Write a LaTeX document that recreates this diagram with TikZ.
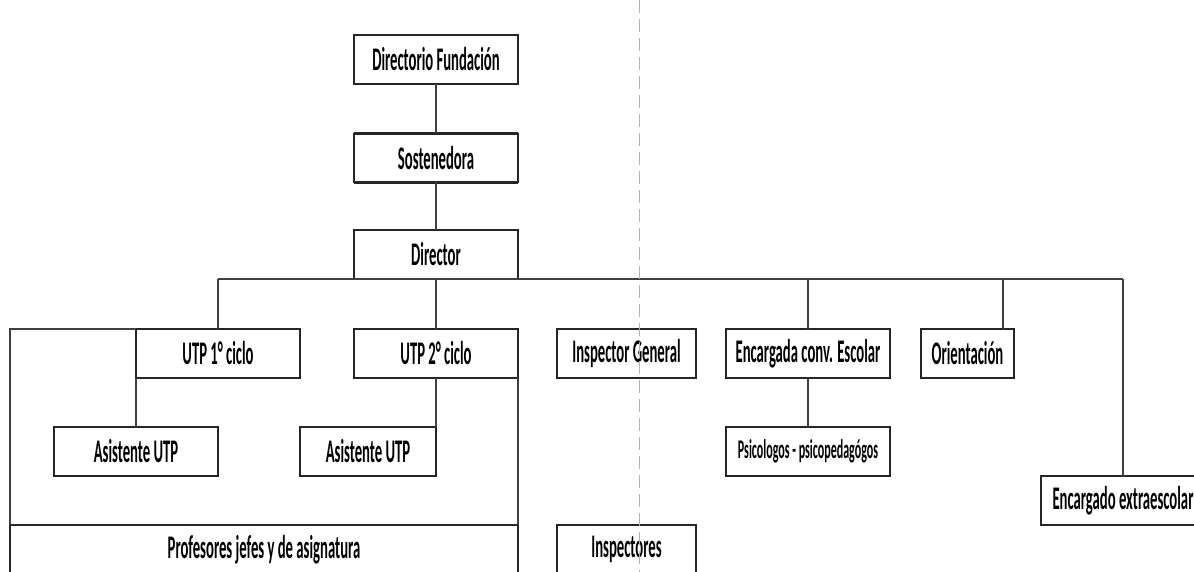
\documentclass[tikz,border=0pt]{standalone}
\usepackage{fontspec}
\setmainfont{Carlito}
\newcommand{\lbl}[1]{\scalebox{0.445}[1]{\bfseries #1}}
\tikzset{box/.style={draw=black!85,line width=1.4pt,fill=white,minimum height=49pt,inner sep=0pt,outer sep=0pt,font=\fontsize{33}{36}\selectfont,
 append after command={(\tikzlastnode.north west) edge[hedge] (\tikzlastnode.north east) (\tikzlastnode.south west) edge[hedge] (\tikzlastnode.south east)}},
hedge/.style={draw=black!85,line width=2.6pt},
conn/.style={draw=black!75,line width=1.3pt}}

\begin{document}
\begin{tikzpicture}[x=1pt,y=-1pt]
\useasboundingbox (0,0) rectangle (1194,572);
\clip (0,0) rectangle (1194,572);
\node[box,minimum width=164pt] (dirf) at (436,59.5) {\lbl{Directorio Fundación}};
\node[box,minimum width=164pt] (sost) at (436,158) {\lbl{Sostenedora}};
\node[box,minimum width=164pt] (dir) at (436,254.5) {\lbl{Director}};
\node[box,minimum width=164pt] (utpa) at (218,353.5) {\lbl{UTP 1° ciclo}};
\node[box,minimum width=164pt] (utpb) at (436,353.5) {\lbl{UTP 2° ciclo}};
\node[box,minimum width=164pt] (asia) at (136,451.5) {\lbl{Asistente UTP}};
\node[box,minimum width=136pt] (asib) at (368,451.5) {\lbl{Asistente UTP}};
\node[box,minimum width=139pt] (insg) at (626.5,353.5) {\lbl{Inspector General}};
\node[box,minimum width=164pt] (encc) at (808,353.5) {\lbl{Encargada conv. Escolar}};
\node[box,minimum width=164pt,font=\fontsize{27}{30}\selectfont] (psic) at (808,451.5) {\lbl{Psicologos - psicopedagógos}};
\node[box,minimum width=93pt] (orie) at (967.5,353.5) {\lbl{Orientación}};
\node[box,minimum width=164pt] (extr) at (1123,500.5) {\lbl{Encargado extraescolar}};
\node[box,minimum width=508pt] (prof) at (264,549.5) {\lbl{Profesores jefes y de asignatura}};
\node[box,minimum width=139pt] (insp) at (626.5,549.5) {\lbl{Inspectores}};
\coordinate (oc) at ([xshift=-11pt]orie.north east);
\draw[conn] (dirf)--(sost) (sost)--(dir);
\draw[conn,line width=2.2pt] (utpa.north|-dir.south)--(extr.north|-dir.south);
\draw[conn] (utpa.north)--(utpa.north|-dir.south);
\draw[conn] (dir.south)--(utpb.north);
\draw[conn] (encc.north)--(encc.north|-dir.south);
\draw[conn] (oc)--(oc|-dir.south);
\draw[conn] (extr.north)--(extr.north|-dir.south);
\draw[conn] (utpa.north west)-|(prof.north west);
\draw[conn] (utpa.south west)--(asia.north);
\draw[conn] (utpb.south)--(asib.north east);
\draw[conn] (utpb.south east)--(prof.north east);
\draw[conn] (encc)--(psic);
\draw[black!30,line width=1pt,dash pattern=on 13pt off 6pt] (639,0)--(639,572);
\end{tikzpicture}
\end{document}
